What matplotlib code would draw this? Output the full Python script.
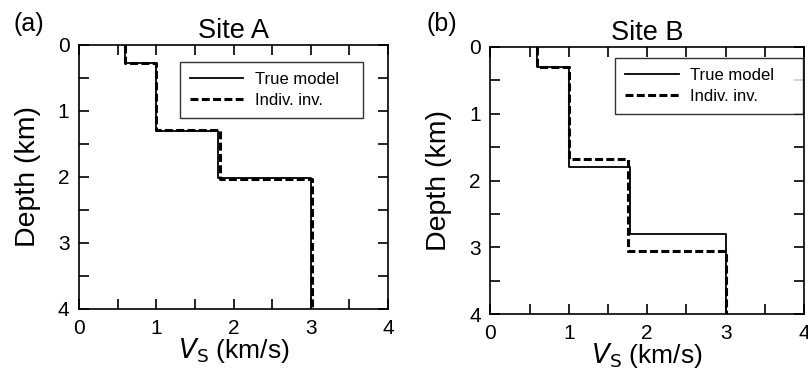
import numpy as np
import matplotlib
matplotlib.use('Agg')
import matplotlib.pyplot as plt
from matplotlib.ticker import MultipleLocator

plt.rcParams['font.family'] = ['Liberation Sans', 'DejaVu Sans']

# layer velocities (km/s) and layer top depths (km), last layer runs to 4 km
vs_a_true = [0.6, 1.0, 1.8, 3.0]
top_a_true = [0.0, 0.28, 1.3, 2.02]
vs_a_inv = [0.6, 1.0, 1.82, 3.02]
top_a_inv = [0.0, 0.28, 1.29, 2.03]

vs_b_true = [0.6, 1.0, 1.78, 3.0]
top_b_true = [0.0, 0.3, 1.8, 2.8]
vs_b_inv = [0.6, 1.0, 1.76, 3.0]
top_b_inv = [0.0, 0.3, 1.68, 3.05]

titles = ['Site A', 'Site B']
tags = ['(a)', '(b)']
max_depth = 4.0


def profile(vs, tops):
    bottoms = list(tops[1:]) + [max_depth]
    x = np.repeat(vs, 2)
    y = np.ravel(np.column_stack([tops, bottoms]))
    return x, y


fig = plt.figure(figsize=(8.08, 3.70), dpi=100)
ax_a = fig.add_axes([0.098, 0.165, 0.382, 0.714])
ax_b = fig.add_axes([0.607, 0.151, 0.388, 0.722])

panels = [(ax_a, vs_a_true, top_a_true, vs_a_inv, top_a_inv),
          (ax_b, vs_b_true, top_b_true, vs_b_inv, top_b_inv)]
# legend boxes (x0, y0, width, height) in axes fractions
leg_boxes = [(0.327, 0.72, 0.592, 0.216), (0.398, 0.745, 0.60, 0.215)]

for i, (ax, vt, tt, vi, ti) in enumerate(panels):
    x, y = profile(vt, tt)
    ax.plot(x, y, color='black', lw=1.3, label='True model')
    x, y = profile(vi, ti)
    ax.plot(x, y, color='black', lw=2.2, ls=(0, (2.6, 1.1)), label='Indiv. inv.')

    ax.set_xlim(0, 4)
    ax.set_ylim(4, 0)
    ax.xaxis.set_major_locator(MultipleLocator(1))
    ax.xaxis.set_minor_locator(MultipleLocator(0.5))
    ax.yaxis.set_major_locator(MultipleLocator(1))
    ax.yaxis.set_minor_locator(MultipleLocator(0.5))
    ax.tick_params(which='both', direction='in', top=True, right=True,
                   length=7, width=1.2, labelsize=15, pad=7)
    for s in ax.spines.values():
        s.set_linewidth(1.2)

    ax.set_title(titles[i], fontsize=19.5, pad=5)
    ax.set_xlabel('$V_\\mathrm{S}$ (km/s)', fontsize=19, labelpad=-1)
    ax.set_ylabel('Depth (km)', fontsize=20.5, labelpad=12)

    leg = ax.legend(loc='upper left', bbox_to_anchor=leg_boxes[i], mode='expand',
                    fontsize=12, frameon=True, fancybox=False,
                    edgecolor='black', handlelength=3.2, handletextpad=0.7,
                    borderpad=0.6, labelspacing=0.35, borderaxespad=0.0)
    leg.get_frame().set_linewidth(1.0)

fig.text(0.017, 0.915, tags[0], fontsize=18)
fig.text(0.528, 0.915, tags[1], fontsize=18)

fig.savefig('out.png', dpi=100)
